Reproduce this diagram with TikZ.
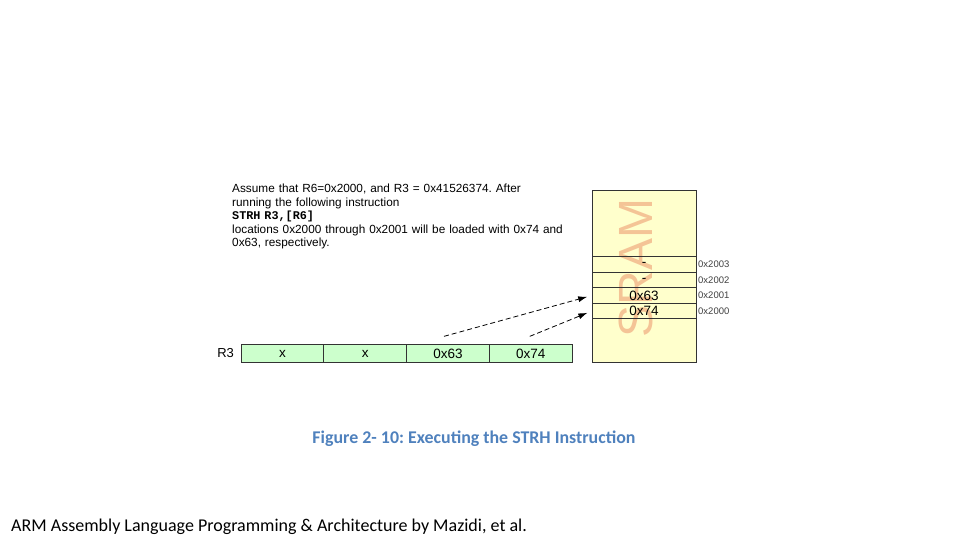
\documentclass[tikz,border=0pt]{standalone}
\usepackage{fontspec}
\setmainfont{Liberation Sans}
\newfontfamily\calibri{Carlito}
\newfontfamily\courier{Liberation Mono}
\usetikzlibrary{positioning,arrows.meta}
\frenchspacing

\definecolor{regfill}{RGB}{204,255,204}
\definecolor{ramfill}{RGB}{255,255,204}
\definecolor{ramsign}{RGB}{244,196,150}
\definecolor{capblue}{RGB}{79,129,189}

\tikzset{
  regcell/.style={draw=black!80, fill=regfill, line width=0.8pt, outer sep=0pt, minimum width=82.75pt, minimum height=18.3pt, inner sep=0pt, font=\fontsize{13.5}{14}\selectfont},
  ramrow/.style={draw=black!80, line width=0.8pt, outer sep=0pt, minimum width=104pt, minimum height=15.5pt, inner sep=0pt, font=\fontsize{13.5}{14}\selectfont},
  addrlabel/.style={inner sep=0pt, font=\fontsize{9.5}{10}\selectfont, text=black!75},
  storearrow/.style={-{Latex[length=9pt,width=6pt]}, dash pattern=on 5pt off 3pt, line width=0.8pt, shorten >=5pt}
}

\begin{document}
\begin{tikzpicture}[x=1pt, y=-1pt]

\useasboundingbox (0,0) rectangle (960,540);

% Explanation text
\node [anchor=north west, inner sep=0pt, text width=360pt, align=left, font=\fontsize{11.8}{13.5}\selectfont] (note) at (232,184)
  {Assume that R6=0x2000, and R3 = 0x41526374. After\\
   running the following instruction\\
   {\courier\bfseries STRH R3,[R6]}\\
   locations 0x2000 through 0x2001 will be loaded with 0x74 and\\
   0x63, respectively.};

% SRAM block
\filldraw [fill=ramfill, draw=black!80, line width=0.8pt] (592,190) rectangle (696,362.7);
\node [rotate=90, text=ramsign, font=\fontsize{48}{48}\selectfont] (sign) at (636,268) {SRAM};

\node [ramrow, anchor=north west] (m3) at (592,256.7) {-};
\node [ramrow, below=0pt of m3] (m2) {-};
\node [ramrow, below=0pt of m2] (m1) {0x63};
\node [ramrow, below=0pt of m1] (m0) {0x74};

\node [addrlabel, right=2pt of m3.east] (a3) {0x2003};
\node [addrlabel, right=2pt of m2.east] (a2) {0x2002};
\node [addrlabel, right=2pt of m1.east] (a1) {0x2001};
\node [addrlabel, right=2pt of m0.east] (a0) {0x2000};

% Register R3
\node [regcell] (c3) at (282.5,353.5) {x};
\node [regcell, right=0pt of c3] (c2) {x};
\node [regcell, right=0pt of c2] (c1) {0x63};
\node [regcell, right=0pt of c1] (c0) {0x74};
\node [left=7pt of c3, inner sep=0pt, font=\fontsize{13}{14}\selectfont] (r3) {R3};

% Store arrows
\coordinate (t1) at ([xshift=-4pt, yshift=8pt]c1.north);
\coordinate (t0) at ([xshift=-1pt, yshift=8pt]c0.north);
\draw [storearrow] (t1) -- (m1.west);
\draw [storearrow] (t0) -- (m0.west);

% Caption and footer
\node [text=capblue, font=\calibri\bfseries\fontsize{17.9}{19}\selectfont] (caption) at (474,439) {Figure 2- 10: Executing the STRH Instruction};
\node [anchor=west, inner sep=0pt, font=\calibri\fontsize{18}{20}\selectfont] (footer) at (11,527) {ARM Assembly Language Programming \& Architecture by Mazidi, et al.};

\end{tikzpicture}
\end{document}
